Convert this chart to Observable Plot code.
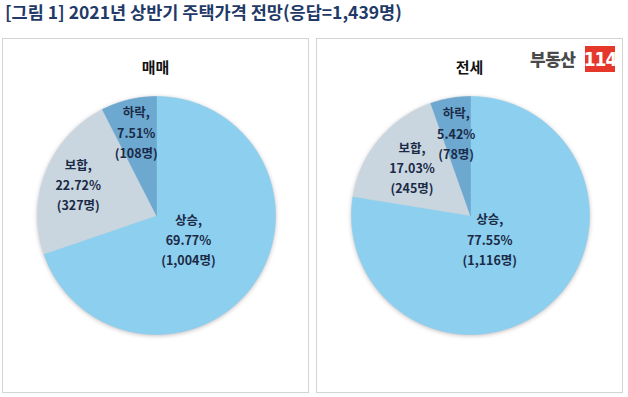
<!DOCTYPE html>
<html>
<head>
<meta charset="utf-8">
<script src="https://cdn.jsdelivr.net/npm/d3@7"></script>
<script src="https://cdn.jsdelivr.net/npm/@observablehq/plot@0.6"></script>
<style>
  html, body { margin: 0; padding: 0; background: #fff; }
  body { width: 628px; height: 397px; position: relative; overflow: hidden;
         font-family: "Noto Sans CJK KR", "Noto Sans", sans-serif; }
  #title { position: absolute; left: 5px; top: -1px; font-size: 17.5px; font-weight: bold;
           color: #1F3A68; white-space: nowrap; letter-spacing: 0px; }
  .panel { position: absolute; top: 38px; width: 305px; height: 353px;
           border: 1px solid #D4D4D4; background: #fff; }
  .ptitle { position: absolute; left: 0; width: 100%; top: 17px; text-align: center;
            font-size: 15px; font-weight: bold; color: #111; }
  .plot { position: absolute; left: 0; top: 0; }
  #logo-t { position: absolute; left: 213px; top: 10px; font-size: 17px; font-weight: 900;
            color: #4a4a4a; letter-spacing: -0.5px; line-height: 20px; }
  #logo-b { position: absolute; left: 268px; top: 7px; background: #E5382A; color: #fff; width: 30px; height: 26px;
            display: flex; align-items: center; justify-content: center;
            font-family: "Liberation Sans Narrow", "DejaVu Sans Condensed", sans-serif;
            font-weight: bold; font-size: 19px; letter-spacing: -1px; }
</style>
</head>
<body>
<div id="title">[그림 1] 2021년 상반기 주택가격 전망(응답=1,439명)</div>
<div class="panel" id="p0" style="left:2px"></div>
<div class="panel" id="p1" style="left:316px"></div>
<script>
// ---- data ----
const categories = ["상승", "보합", "하락"];
const panelTitles = ["매매", "전세"];
const salePct = [69.77, 22.72, 7.51];
const saleCount = [1004, 327, 108];
const jeonsePct = [77.55, 17.03, 5.42];
const jeonseCount = [1116, 245, 78];
const sliceColors = ["#8DCFEE", "#C9D6DF", "#6CA8D0"];

// ---- layout (not data) ----
const W = 305, H = 353, R = 119, CX = 153, CY = 176;
const labelRadius = [[0.33, 0.71, 0.73], [0.25, 0.64, 0.71]];
const fmt = d3.format(",");

function drawPanel(idx, pct, counts) {
  const pie = d3.pie().sort(null).value(d => d)(pct);
  const poly = [];
  const labels = [];
  pie.forEach((s, i) => {
    const cat = categories[i];
    poly.push({cat, x: 0, y: 0});
    const n = Math.max(2, Math.ceil((s.endAngle - s.startAngle) / (Math.PI / 180)));
    for (let j = 0; j <= n; j++) {
      const a = s.startAngle + (s.endAngle - s.startAngle) * j / n;
      poly.push({cat, x: Math.sin(a), y: Math.cos(a)});
    }
    poly.push({cat, x: 0, y: 0});
    const m = (s.startAngle + s.endAngle) / 2;
    const lr = labelRadius[idx][i];
    labels.push({
      cat,
      x: lr * Math.sin(m),
      y: lr * Math.cos(m),
      text: `${cat},\n${pct[i].toFixed(2)}%\n(${fmt(counts[i])}명)`
    });
  });

  const chart = Plot.plot({
    width: W, height: H,
    marginLeft: CX - R, marginRight: W - CX - R,
    marginTop: CY - R, marginBottom: H - CY - R,
    x: {domain: [-1, 1], axis: null},
    y: {domain: [-1, 1], axis: null},
    color: {domain: categories, range: sliceColors},
    style: {background: "transparent", overflow: "visible"},
    marks: [
      Plot.line(poly, {x: "x", y: "y", z: "cat", fill: "cat", stroke: "cat", strokeWidth: 0.6, curve: "linear"}),
      Plot.text(labels, {x: "x", y: "y", text: "text", fill: "#1B2A47",
        fontSize: 12.5, fontWeight: "bold", lineHeight: 1.62,
        fontFamily: "'Noto Sans CJK KR', sans-serif"})
    ]
  });
  chart.classList.add("plot");
  const lineG = chart.querySelector('g[aria-label="line"]');
  if (lineG) lineG.style.filter = "drop-shadow(0px 1px 2px rgba(90,70,70,0.35))";
  const panel = document.getElementById("p" + idx);
  panel.appendChild(chart);
  const t = document.createElement("div");
  t.className = "ptitle";
  t.textContent = panelTitles[idx];
  panel.appendChild(t);
}

drawPanel(0, salePct, saleCount);
drawPanel(1, jeonsePct, jeonseCount);

const p1 = document.getElementById("p1");
const lt = document.createElement("div");
lt.id = "logo-t"; lt.textContent = "부동산";
const lb = document.createElement("div");
lb.id = "logo-b"; lb.textContent = "114";
p1.appendChild(lt);
p1.appendChild(lb);
</script>
</body>
</html>
